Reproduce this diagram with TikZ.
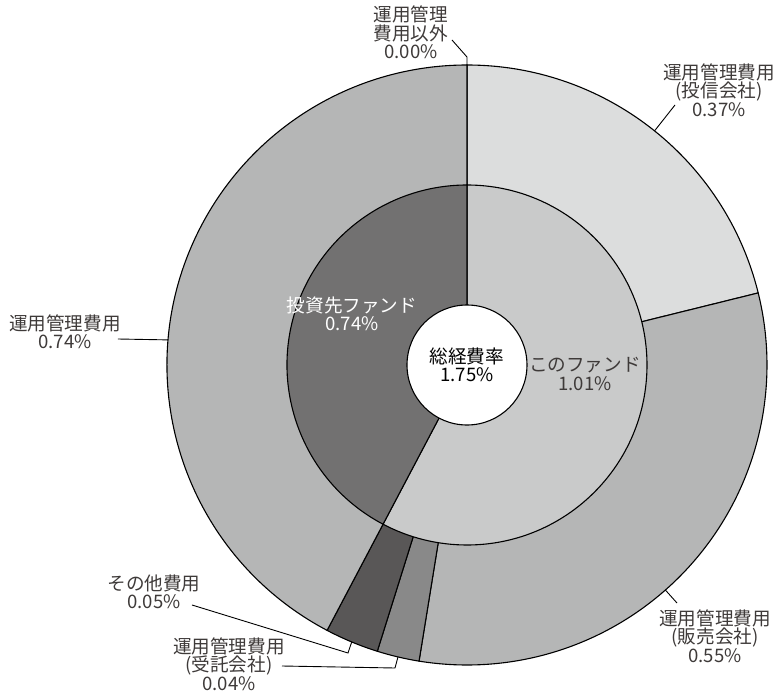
\documentclass[tikz,border=0pt]{standalone}
\usepackage{fontspec}
\setmainfont{Noto Sans CJK JP}
\definecolor{toushin}{RGB}{220,221,221}
\definecolor{hanbai}{RGB}{181,182,182}
\definecolor{jutaku}{RGB}{137,137,137}
\definecolor{sonota}{RGB}{89,87,87}
\definecolor{konofund}{RGB}{201,202,202}
\definecolor{toushisaki}{RGB}{114,113,113}
\definecolor{labeltext}{RGB}{62,58,57}
\tikzset{
	x=1pt, y=1pt,
	slice/.style={draw=black, line width=1.1pt}, % wedges of both rings
	costlabel/.style={align=center, inner sep=0pt, text=labeltext,
		font=\fontsize{18.6}{18.5}\selectfont},
	leader/.style={draw=black, line width=0.9pt},
}
\begin{document}
\begin{tikzpicture}
      \useasboundingbox (-467,-326) rectangle (307,365);

      % outer ring
      \filldraw[slice, fill=toushin] (0,0) -- (90:300pt) arc[start angle=90, end angle=13.9, radius=300pt] -- cycle;
      \filldraw[slice, fill=hanbai] (0,0) -- (13.9:300pt) arc[start angle=13.9, end angle=-99.2, radius=300pt] -- cycle;
      \filldraw[slice, fill=jutaku] (0,0) -- (-99.2:300pt) arc[start angle=-99.2, end angle=-107.4, radius=300pt] -- cycle;
      \filldraw[slice, fill=sonota] (0,0) -- (-107.4:300pt) arc[start angle=-107.4, end angle=-117.8, radius=300pt] -- cycle;
      \filldraw[slice, fill=hanbai] (0,0) -- (-117.8:300pt) arc[start angle=-117.8, end angle=-270, radius=300pt] -- cycle;

      % inner ring
      \filldraw[slice, fill=konofund] (0,0) -- (90:180pt) arc[start angle=90, end angle=-117.8, radius=180pt] -- cycle;
      \filldraw[slice, fill=toushisaki] (0,0) -- (-117.8:180pt) arc[start angle=-117.8, end angle=-270, radius=180pt] -- cycle;

      % centre
      \node[circle, draw=black, line width=1.1pt, fill=white, minimum size=120pt, inner sep=0pt,
            align=center, font=\fontsize{18.6}{18.5}\selectfont] (total) at (0,0) {総経費率\\1.75\%};

      \node[costlabel, text=white] (saki) at (-115,51) {投資先ファンド\\0.74\%};
      \node[costlabel] (kono) at (118,-9) {このファンド\\1.01\%};

      % outer labels
      \node[costlabel] (igai) at (-56,332.5) {運用管理\\費用以外\\0.00\%};
      \node[costlabel] (toushinL) at (252,275) {運用管理費用\\(投信会社)\\0.37\%};
      \node[costlabel] (unyouL) at (-402,33) {運用管理費用\\0.74\%};
      \node[costlabel] (hanbaiL) at (248,-271) {運用管理費用\\(販売会社)\\0.55\%};
      \node[costlabel] (sonotaL) at (-313,-227) {その他費用\\0.05\%};
      \node[costlabel] (jutakuL) at (-238,-299) {運用管理費用\\(受託会社)\\0.04\%};

      % leader lines
      \coordinate (igaiA) at (-15,325);
      \coordinate (igaiB) at (0,308);
      \coordinate (igaiC) at (90:300pt);
      \draw[leader] (igaiA) -- (igaiB) -- (igaiC);

      \coordinate (toushinA) at (208,260);
      \coordinate (toushinB) at (51.3:300pt);
      \draw[leader] (toushinA) -- (toushinB);

      \coordinate (unyouA) at (-349,26);
      \coordinate (unyouB) at (175.2:300pt);
      \draw[leader] (unyouA) -- (unyouB);

      \coordinate (hanbaiA) at (210,-238);
      \coordinate (hanbaiB) at (-48.6:300pt);
      \draw[leader] (hanbaiA) -- (hanbaiB);

      \coordinate (sonotaA) at (-275,-240);
      \coordinate (sonotaB) at (-119,-288);
      \coordinate (sonotaC) at (-112.6:300pt);
      \draw[leader] (sonotaA) -- (sonotaB) -- (sonotaC);

      \coordinate (jutakuA) at (-185,-301);
      \coordinate (jutakuB) at (-72,-303);
      \coordinate (jutakuC) at (-103.3:300pt);
      \draw[leader] (jutakuA) -- (jutakuB) -- (jutakuC);
\end{tikzpicture}
\end{document}
